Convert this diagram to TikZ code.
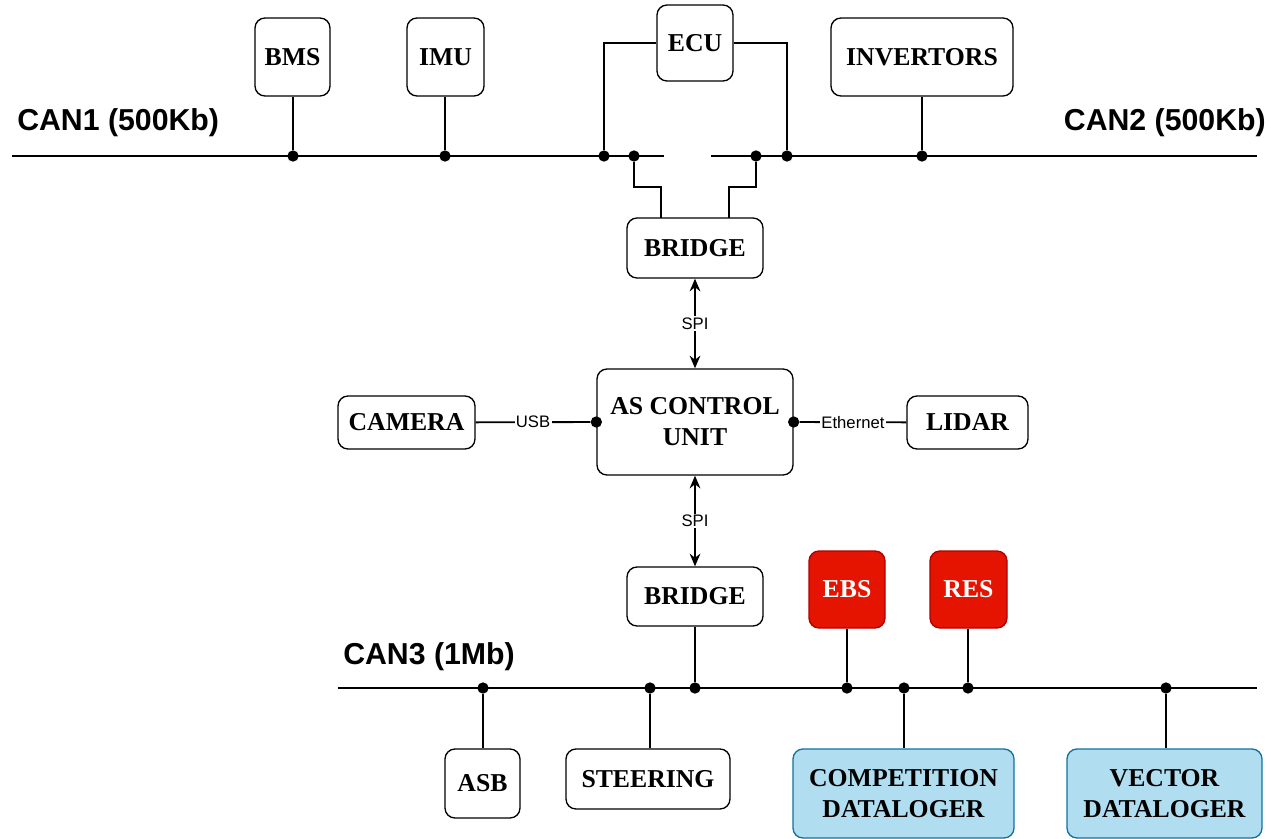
\documentclass[tikz,border=0pt]{standalone}
\usepackage{fontspec}
\setmainfont{Liberation Serif}
\setsansfont{Liberation Sans}
\usetikzlibrary{arrows.meta}

\definecolor{alarmred}{HTML}{E51400}
\definecolor{alarmedge}{HTML}{B20000}
\definecolor{logblue}{HTML}{B1DDF0}
\definecolor{logedge}{HTML}{10739E}

\begin{document}
\begin{tikzpicture}[x=0.75pt,y=-0.75pt,
  wire/.style={line width=1.4pt, black},
  dims/.style 2 args={minimum width=#1*0.75pt, minimum height=#2*0.75pt},
  unit/.style={draw, line width=1pt, rounded corners=7.5pt, inner sep=0pt, align=center,
    font=\bfseries\fontsize{19.3}{23.2}\selectfont},
  redunit/.style={unit, fill=alarmred, draw=alarmedge, text=white},
  blueunit/.style={unit, fill=logblue, draw=logedge},
  joint/.style={circle, fill=black, inner sep=0pt, minimum size=8.5pt},
  busname/.style={font=\sffamily\bfseries\fontsize{22.7}{26}\selectfont, inner sep=0pt},
  link/.style={font=\sffamily\fontsize{12.5}{14}\selectfont, fill=white, inner sep=1pt},
  twoway/.style={wire, {Stealth[length=9.5pt,width=8pt]}-{Stealth[length=9.5pt,width=8pt]}}
]
\useasboundingbox (0,0) rectangle (1271,839);
\clip (0,0) rectangle (1271,839);

% ---------- units (centre, width x height in px) ----------
\node[unit, dims={75}{78}] (bms) at (292.5,57) {BMS};
\node[unit, dims={77}{78}] (imu) at (445.5,57) {IMU};
\node[unit, dims={76}{76}] (ecu) at (695,43) {ECU};
\node[unit, dims={182}{78}] (inv) at (922,57) {INVERTORS};
\node[unit, dims={136}{60}] (bridgeA) at (695,248) {BRIDGE};
\node[unit, dims={196}{106}] (acu) at (695,422) {AS CONTROL\\UNIT};
\node[unit, dims={137}{53}] (cam) at (406.5,422.5) {CAMERA};
\node[unit, dims={121}{53}] (lidar) at (967.5,422.5) {LIDAR};
\node[unit, dims={136}{59}] (bridgeB) at (695,596.5) {BRIDGE};
\node[redunit, dims={76}{77}] (ebs) at (847,589.5) {EBS};
\node[redunit, dims={77}{77}] (res) at (968.5,589.5) {RES};
\node[unit, dims={75}{69}] (asb) at (482.5,783.5) {ASB};
\node[unit, dims={164}{60}] (steer) at (648,779) {STEERING};
\node[blueunit, dims={221}{89}] (comp) at (903.5,793.5) {COMPETITION\\DATALOGER};
\node[blueunit, dims={195}{89}] (vect) at (1164.5,793.5) {VECTOR\\DATALOGER};

% ---------- bus names ----------
\node[busname, anchor=base west] (can1) at (17,130) {CAN1 (500Kb)};
\node[busname, anchor=base east] (can2) at (1266,130) {CAN2 (500Kb)};
\node[busname, anchor=base west] (can3) at (343,664) {CAN3 (1Mb)};

% ---------- CAN1 / CAN2 ----------
\coordinate (c1a) at (12,156);
\coordinate (c1b) at (664,156);
\coordinate (c2a) at (711,156);
\coordinate (c2b) at (1257,156);
\draw[wire] (c1a) -- (c1b);
\draw[wire] (c2a) -- (c2b);
\node[joint] (jbms) at (293,156) {};
\node[joint] (jimu) at (445,156) {};
\node[joint] (jecuL) at (604,156) {};
\node[joint] (jbrL) at (634,156) {};
\node[joint] (jbrR) at (756,156) {};
\node[joint] (jecuR) at (787,156) {};
\node[joint] (jinv) at (922,156) {};

\draw[wire] (bms.south -| jbms) -- (jbms);
\draw[wire] (imu.south -| jimu) -- (jimu);
\draw[wire] (inv.south -| jinv) -- (jinv);
\draw[wire] (ecu.west) -| (jecuL);
\draw[wire] (ecu.east) -| (jecuR);
\coordinate (bAin) at (661,218);
\coordinate (bBin) at (729,218);
\draw[wire] (jbrL) -- (634,187) -| (bAin);
\draw[wire] (jbrR) -- (756,187) -| (bBin);

% ---------- AS control unit links ----------
\draw[twoway] (bridgeA) -- node[link] {SPI} (acu);
\draw[twoway] (acu) -- node[link] {SPI} (bridgeB);
\node[joint] (jcam) at (acu.west) {};
\node[joint] (jlid) at (acu.east) {};
\draw[wire] (cam) -- node[link] {USB} (jcam);
\draw[wire] (jlid) -- node[link] {Ethernet} (lidar);

% ---------- CAN3 ----------
\coordinate (c3a) at (338,688);
\coordinate (c3b) at (1257,688);
\draw[wire] (c3a) -- (c3b);
\node[joint] (jasb) at (483,688) {};
\node[joint] (jsteer) at (650,688) {};
\node[joint] (jbrB) at (695,688) {};
\node[joint] (jebs) at (847,688) {};
\node[joint] (jcomp) at (904,688) {};
\node[joint] (jres) at (968,688) {};
\node[joint] (jvect) at (1166,688) {};

\draw[wire] (jasb) -- (asb.north -| jasb);
\draw[wire] (jsteer) -- (steer.north -| jsteer);
\draw[wire] (bridgeB) -- (jbrB);
\draw[wire] (ebs.south -| jebs) -- (jebs);
\draw[wire] (res.south -| jres) -- (jres);
\draw[wire] (jcomp) -- (comp.north -| jcomp);
\draw[wire] (jvect) -- (vect.north -| jvect);
\end{tikzpicture}
\end{document}
